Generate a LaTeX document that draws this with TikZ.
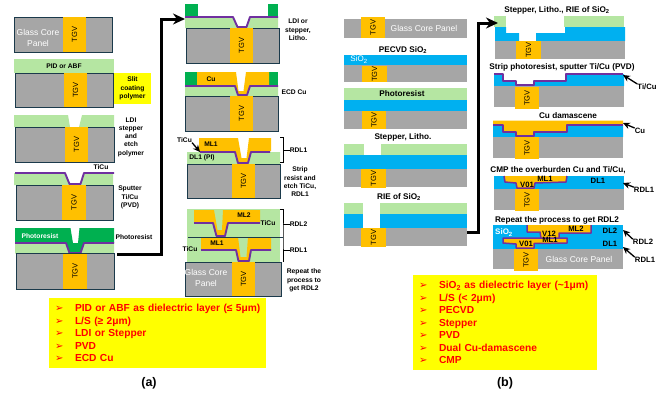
\documentclass[tikz,border=0pt]{standalone}
\usepackage{fontspec}
\setmainfont{Liberation Sans}
\newfontfamily\arrowfont{DejaVu Sans}
\usetikzlibrary{arrows.meta}
\definecolor{glassc}{HTML}{A6A6A6}
\definecolor{tgvc}{HTML}{FFC000}
\definecolor{oxidec}{HTML}{00B0F0}
\definecolor{polyc}{HTML}{B5E6A2}
\definecolor{resistc}{HTML}{00B050}
\definecolor{seedc}{HTML}{7030A0}
\definecolor{edgec}{HTML}{1B3A4B}
\definecolor{markc}{HTML}{FFFF00}
\tikzset{
  glass/.style={fill=glassc},
  glassedge/.style={fill=glassc, draw=edgec, line width=1pt},
  tgvfill/.style={fill=tgvc},
  tgvtext/.style={rotate=90, inner sep=0pt, font=\fontsize{7.5}{9}\selectfont},
  oxide/.style={fill=oxidec},
  poly/.style={fill=polyc},
  resist/.style={fill=resistc},
  cu/.style={fill=tgvc},
  seed/.style={draw=seedc, line width=1.9pt, line join=round},
  cuseed/.style={fill=tgvc, draw=seedc, line width=1.5pt, line join=round},
  note/.style={align=center, inner sep=0pt, font=\fontsize{6.7}{8.3}\selectfont\bfseries},
  caption/.style={align=center, inner sep=0pt, font=\fontsize{8.2}{10}\selectfont\bfseries},
  tag/.style={inner sep=0pt, font=\fontsize{7.7}{9}\selectfont\bfseries},
  onglass/.style={align=center, inner sep=0pt, text=white, font=\fontsize{8.5}{10.5}\selectfont},
  listbox/.style={fill=markc, text=red, align=left, inner sep=0pt, font=\fontsize{10.2}{12.45}\selectfont\bfseries},
  flowarrow/.style={line width=3pt, -{Stealth[length=12pt,width=11pt]}},
  tiparrow/.style={line width=1.3pt, -{Stealth[length=7pt,width=6.5pt]}},
  bracket/.style={line width=0.6pt}
}
\newcommand{\tgvbox}[5]{
  \fill[tgvfill] (#2,#3) rectangle (#4,#5);
  \node[tgvtext] (#1) at ({(#2+#4)/2},{(#3+#5)/2}) {TGV};
}
\newcommand{\bul}{\makebox[26pt][l]{\hspace{6pt}\arrowfont\fontsize{10}{10}\selectfont ➢}}
\begin{document}
\begin{tikzpicture}[x=1pt,y=-1pt]
\useasboundingbox (0,0) rectangle (670,402);

% (a) left column
\filldraw[glassedge] (14,17) rectangle (112.5,52);
\tgvbox{a1t}{63}{17}{86}{52}
\node[onglass] (a1g) at (38,38) {Glass Core\\Panel};

\fill[poly] (14,59) rectangle (114,73);
\filldraw[glassedge] (15,73) rectangle (113,107);
\tgvbox{a2t}{64}{73}{87}{107}
\node[note] (a2p) at (64,66) {PID or ABF};
\node[note, fill=markc, minimum width=37, minimum height=31] (a2s) at (132.5,88.5) {Slit\\coating\\polymer};

\fill[poly] (14,115) -- (68,115) -- (70,127) -- (79,127) -- (82,115) -- (114,115) -- (114,127) -- (14,127) -- cycle;
\filldraw[glassedge] (15,127) rectangle (114,162);
\tgvbox{a3t}{65}{127}{88}{162}
\node[note] (a3n) at (131,137) {LDI\\stepper\\and\\etch\\polymer};
\node[note] (a4c) at (101,167) {TiCu};

\fill[poly] (14,173) -- (65,173) -- (70,185) -- (80,185) -- (84,173) -- (113,173) -- (113,185) -- (14,185) -- cycle;
\draw[seed] (15,173) -- (65,173) -- (69.5,184) -- (80.5,184) -- (84,173) -- (114,173);
\filldraw[glassedge] (16,185) rectangle (113,220);
\tgvbox{a4t}{62}{185}{86}{220}
\node[note] (a4n) at (130,197.5) {Sputter\\Ti/Cu\\(PVD)};

\fill[poly] (15,244) -- (66,244) -- (69.5,253.5) -- (80.5,253.5) -- (84,244) -- (114,244) -- (114,253.5) -- (15,253.5) -- cycle;
\fill[resist] (15,228) -- (70.5,228) -- (73,243) -- (78,243) -- (79.5,228) -- (114,228) -- (114,243) -- (84,243) -- (80,253) -- (70,253) -- (66,243) -- (15,243) -- cycle;
\draw[seed] (15,243) -- (66,243) -- (69.5,253) -- (80.5,253) -- (84,243) -- (114,243);
\filldraw[glassedge] (16,253.5) rectangle (114,289);
\tgvbox{a5t}{63}{253.5}{87}{289}
\node[note, text=white] (a5r) at (40,236) {Photoresist};
\node[note] (a5n) at (134,237) {Photoresist};

% (a) right column
\fill[resist] (185,4) rectangle (198,16);
\fill[resist] (268,4) rectangle (278,16);
\fill[poly] (185,17) -- (233,17) -- (238,28) -- (246,28) -- (250,17) -- (278,17) -- (278,28) -- (185,28) -- cycle;
\draw[seed] (185,17) -- (233,17) -- (237.5,27) -- (246.5,27) -- (250,17) -- (278,17);
\filldraw[glassedge] (186,28) rectangle (279,63);
\tgvbox{b1t}{230}{28}{253}{63}
\node[note] (b1n) at (298,30) {LDI or\\stepper,\\Litho.};

\fill[resist] (185,72) rectangle (197,85);
\fill[resist] (269,72) rectangle (278,85);
\fill[poly] (185,86) -- (235,86) -- (238,96) -- (247,96) -- (250,86) -- (278,86) -- (278,96) -- (185,96) -- cycle;
\fill[cu] (197,72) -- (236,72) -- (238.5,91) -- (243.5,91) -- (246,72) -- (269,72) -- (269,85.5) -- (250,85.5) -- (247,95) -- (238,95) -- (235,85.5) -- (197,85.5) -- cycle;
\draw[seed] (185,86) -- (235,86) -- (238,95) -- (247,95) -- (250,86) -- (278,86);
\filldraw[glassedge] (185,96) rectangle (278,131);
\tgvbox{b2t}{230}{96}{253}{131}
\node[note] (b2c) at (211,79) {Cu};
\node[note] (b2n) at (294,92) {ECD Cu};

\fill[poly] (187,152) -- (235,152) -- (238,164) -- (248,164) -- (251,152) -- (280,152) -- (280,164) -- (187,164) -- cycle;
\fill[cu] (199,138) -- (238,138) -- (241.5,158) -- (246.5,158) -- (249,138) -- (271,138) -- (271,151) -- (251,151) -- (248,163) -- (238,163) -- (235,151) -- (199,151) -- cycle;
\draw[seed] (200,152) -- (235,152) -- (238,163) -- (248,163) -- (251,152) -- (270,152);
\filldraw[glassedge] (187,164) rectangle (280,198);
\tgvbox{b3t}{232}{164}{255}{198}
\node[note] (b3m) at (211,144) {ML1};
\node[note] (b3d) at (202,158) {DL1 (PI)};
\node[note] (b3c) at (184.5,140) {TiCu};
\coordinate (b3s) at (200,152);
\draw[tiparrow] (b3c.south east) -- (b3s);
\draw[bracket] (280,137) -- (283,137) -- (283,162) -- (280,162);
\coordinate (b3b) at (283,150);
\node[note] (b3r) at (298.5,150) {RDL1};
\draw[bracket] (b3b) -- (b3r.west);
\node[note] (b3n) at (300,182) {Strip\\resist and\\etch TiCu,\\RDL1};

\fill[poly] (187,209) rectangle (280,262);
\fill[cu] (194,210) -- (214,210) -- (217.5,230) -- (222,230) -- (223,210) -- (260,210) -- (260,222.5) -- (228,222.5) -- (225,236) -- (216.5,236) -- (213,222.5) -- (194,222.5) -- cycle;
\draw[seed] (194,223) -- (213,223) -- (216.5,236) -- (225,236) -- (228,223) -- (260,223);
\fill[cu] (201,237) -- (238,237) -- (240.5,257) -- (246.5,257) -- (248,237) -- (271,237) -- (271,250) -- (251,250) -- (249,261) -- (238.5,261) -- (236,250) -- (201,250) -- cycle;
\draw[seed] (201,250) -- (236,250) -- (238.5,261) -- (249,261) -- (251,250) -- (271,250);
\draw[edgec, line width=0.6pt] (188,237) -- (283,237);
\filldraw[glassedge] (185,262) rectangle (281,296);
\tgvbox{b4t}{232}{262}{255}{296}
\node[onglass] (b4g) at (206,278) {Glass Core\\Panel};
\node[note] (b4a) at (244,215) {ML2};
\node[note] (b4b) at (217,243) {ML1};
\node[note] (b4c) at (268,223) {TiCu};
\node[note] (b4d) at (190,249) {TiCu};
\draw[bracket] (280,209.5) -- (283,209.5) -- (283,237) -- (283,262);
\coordinate (b4s) at (283,224);
\coordinate (b4u) at (283,250);
\node[note] (b4r) at (298.5,224) {RDL2};
\node[note] (b4q) at (298.5,250) {RDL1};
\draw[bracket] (b4s) -- (b4r.west);
\draw[bracket] (b4u) -- (b4q.west);
\node[note] (b4n) at (304,280.5) {Repeat the\\process to\\get RDL2};

% (a) flow and list
\coordinate (a5e) at (117,254);
\coordinate (abend) at (161.5,19);
\coordinate (b1e) at (185,19);
\draw[flowarrow] (a5e) -| (abend) -- (b1e);
\node[listbox, text width=217, minimum height=70] (lista) at (157.5,333) {\bul PID or ABF as dielectric layer (≤ 5μm)\\\bul L/S (≥ 2μm)\\\bul LDI or Stepper\\\bul PVD\\\bul ECD Cu};
\node[inner sep=0pt, font=\fontsize{12.5}{14}\selectfont\bfseries] (capa) at (149,383) {(a)};

% (b) left column
\fill[glass] (344,19) rectangle (467,38);
\tgvbox{c1t}{361}{17}{385}{38}
\node[onglass] (c1g) at (424,28) {Glass Core Panel};

\node[caption] (c2n) at (403,50) {PECVD SiO\textsubscript{2}};
\fill[oxide] (344,55) rectangle (467,65);
\fill[glass] (344,65) rectangle (467,82);
\tgvbox{c2t}{362}{66}{387}{82}
\node[onglass, font=\fontsize{8}{9}\selectfont] (c2s) at (359,59.5) {SiO\textsubscript{2}};

\fill[poly] (344,88) rectangle (467,100);
\fill[oxide] (344,100) rectangle (467,111);
\fill[glass] (344,111) rectangle (467,129);
\tgvbox{c3t}{362}{111}{386}{129}
\node[caption] (c3n) at (402,93.5) {Photoresist};

\node[caption] (c4n) at (403,137) {Stepper, Litho.};
\fill[poly] (344,144) rectangle (364,155);
\fill[poly] (381,144) rectangle (467,155);
\fill[oxide] (344,155) rectangle (467,169);
\fill[glass] (344,169) rectangle (467,187);
\tgvbox{c4t}{361}{169}{386}{188}

\node[caption] (c5n) at (399,197) {RIE of SiO\textsubscript{2}};
\fill[poly] (344,203) rectangle (363,214);
\fill[poly] (380,203) rectangle (467,214);
\fill[oxide] (344,214) rectangle (363,228);
\fill[oxide] (380,214) rectangle (467,228);
\fill[glass] (344,228) rectangle (467,246);
\tgvbox{c5t}{361}{228}{386}{247}

% (b) right column
\node[caption] (d1n) at (557,10) {Stepper, Litho., RIE of SiO\textsubscript{2}};
\fill[poly] (494,16) rectangle (506,27);
\fill[poly] (564,16) rectangle (624,27);
\fill[oxide] (495,27) -- (506,27) -- (506,33) -- (519,33) -- (519,41) -- (536,41) -- (536,33) -- (565,33) -- (565,27) -- (625,27) -- (625,41) -- (495,41) -- cycle;
\fill[glass] (495,41) rectangle (625,59);
\tgvbox{d1t}{516}{41}{541}{59}

\node[caption] (d2n) at (562,67) {Strip photoresist, sputter Ti/Cu (PVD)};
\fill[oxide] (494,74) -- (503,74) -- (503,81) -- (516,81) -- (516,85) -- (534,85) -- (534,81) -- (566,81) -- (566,74) -- (624,74) -- (624,86) -- (494,86) -- cycle;
\draw[seed] (494,74) -- (503,74) -- (503,81) -- (516,81) -- (516,85) -- (534,85) -- (534,81) -- (566,81) -- (566,74) -- (623,74);
\fill[glass] (494,86) rectangle (624,107);
\tgvbox{d2t}{515}{87}{539}{109}
\node[tag] (d2r) at (647,87) {Ti/Cu};
\coordinate (d2s) at (623,75);
\draw[tiparrow] (d2r.north west) -- (d2s);

\node[caption] (d3n) at (568,116) {Cu damascene};
\fill[oxide] (493,125) -- (503,125) -- (503,132) -- (516,132) -- (516,136) -- (534,136) -- (534,132) -- (567,132) -- (567,125) -- (623,125) -- (623,137) -- (493,137) -- cycle;
\fill[cu] (493,120.5) -- (623,120.5) -- (623,125) -- (567,125) -- (567,132) -- (534,132) -- (534,136) -- (516,136) -- (516,132) -- (503,132) -- (503,125) -- (493,125) -- cycle;
\draw[seed, line width=1.5pt] (493,125) -- (503,125) -- (503,132) -- (516,132) -- (516,136) -- (534,136) -- (534,132) -- (567,132) -- (567,125) -- (623,125);
\fill[glass] (493,137) rectangle (623,158);
\tgvbox{d3t}{515}{137}{539}{159}
\node[tag] (d3r) at (640,131) {Cu};
\coordinate (d3s) at (623,123);
\draw[tiparrow] (d3r.north west) -- (d3s);

\node[caption] (d4n) at (558,170) {CMP the overburden Cu and Ti/Cu,};
\fill[oxide] (494,176) rectangle (624,189);
\filldraw[cuseed] (504,176) -- (505,182) -- (516,183) -- (517,188) -- (534,188) -- (535,183) -- (566,182) -- (567,176);
\fill[glass] (494,189) rectangle (624,210);
\tgvbox{d4t}{515}{189}{539}{211}
\node[tag] (d4a) at (545,179) {ML1};
\node[tag] (d4b) at (527,184.5) {V01};
\node[tag] (d4c) at (598,181) {DL1};
\node[tag] (d4r) at (644,190) {RDL1};
\coordinate (d4s) at (623,183);
\draw[tiparrow] (d4r.north west) -- (d4s);

\node[caption] (d5n) at (557,220) {Repeat the process to get RDL2};
\fill[oxide] (493,225) rectangle (623,249);
\fill[glass] (493,249) rectangle (623,269);
\tgvbox{d5t}{514}{249}{538}{271}
\filldraw[cuseed] (503,238) -- (503,243) -- (516,244) -- (516,248) -- (534,248) -- (534,243.5) -- (567,243) -- (567,238) -- cycle;
\filldraw[cuseed] (527,225) -- (527,232) -- (540,232) -- (541,238) -- (559,238) -- (559,233) -- (591,233) -- (591,225);
\node[onglass, font=\fontsize{8}{9}\selectfont\bfseries] (d5s) at (504,232.5) {SiO\textsubscript{2}};
\node[tag] (d5a) at (576,229) {ML2};
\node[tag] (d5b) at (549,233.5) {V12};
\node[tag] (d5c) at (550,240) {ML1};
\node[tag] (d5d) at (526,243.5) {V01};
\node[tag] (d5e) at (610,231) {DL2};
\node[tag] (d5f) at (610,244) {DL1};
\node[onglass] (d5g) at (579,259) {Glass Core Panel};
\node[tag] (d5r) at (643,242) {RDL2};
\node[tag] (d5q) at (645,260) {RDL1};
\coordinate (d5u) at (623,230);
\coordinate (d5v) at (623,247);
\draw[tiparrow] (d5r.north west) -- (d5u);
\draw[tiparrow] (d5q.north west) -- (d5v);

% (b) flow and list
\coordinate (c5e) at (467,232);
\coordinate (cbend) at (478,23);
\coordinate (d1e) at (498,23);
\draw[flowarrow] (c5e) -| (cbend) -- (d1e);
\node[listbox, text width=184, minimum height=95] (listb) at (505,322.5) {\bul SiO\textsubscript{2} as dielectric layer (\textasciitilde 1μm)\\\bul L/S (< 2μm)\\\bul PECVD\\\bul Stepper\\\bul PVD\\\bul Dual Cu-damascene\\\bul CMP};
\node[inner sep=0pt, font=\fontsize{12.5}{14}\selectfont\bfseries] (capb) at (505,383) {(b)};
\end{tikzpicture}
\end{document}
